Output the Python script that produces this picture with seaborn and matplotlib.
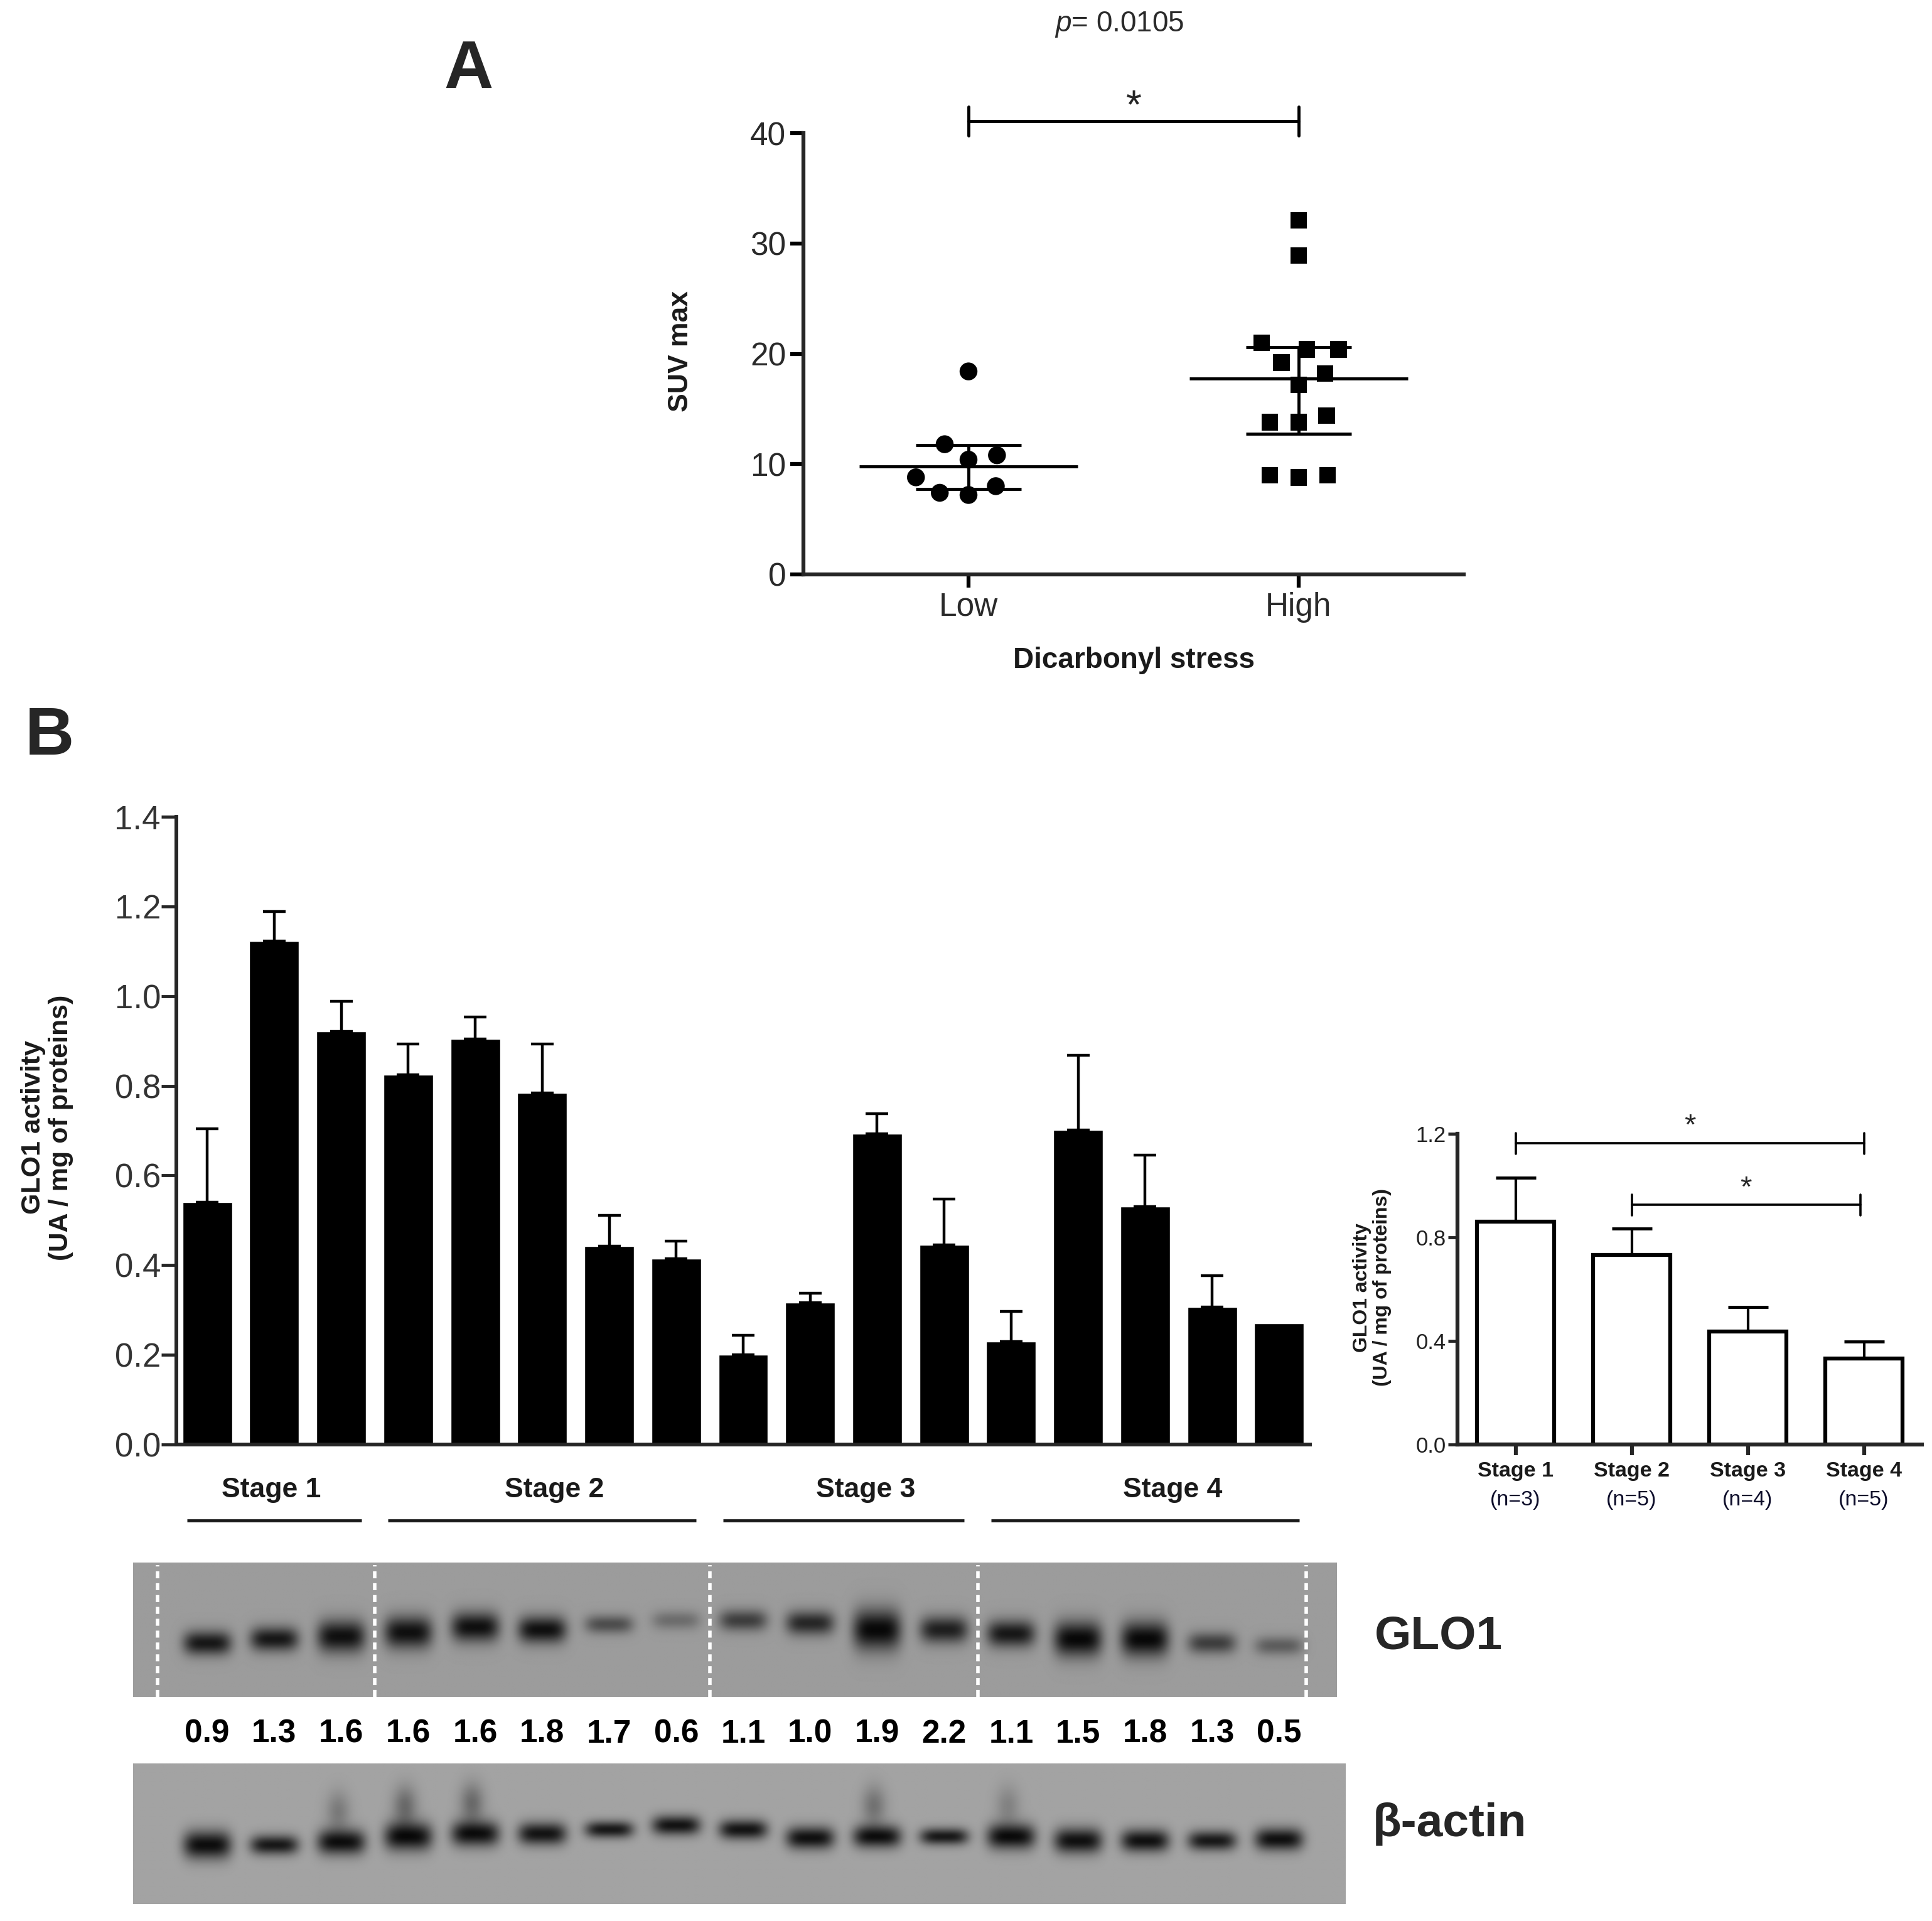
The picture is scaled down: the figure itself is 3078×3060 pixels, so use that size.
import numpy as np
import pandas as pd
import matplotlib
matplotlib.use("Agg")
import matplotlib.pyplot as plt
import seaborn as sns
from matplotlib.transforms import blended_transform_factory as blend

# ---------------- data ----------------
# Panel A: SUV max by dicarbonyl stress
groups_a = ["Low", "High"]
suv_low = [18.4, 11.8, 10.8, 10.4, 8.8, 8.0, 7.2, 7.4]
suv_high = [32.1, 28.9, 20.4, 20.4, 21.0, 19.2, 18.2, 17.2, 13.8, 13.8, 14.4, 9.0, 8.8, 9.0]
center_a = [9.8, 17.75]
lower_a = [7.75, 12.75]
upper_a = [11.7, 20.6]
p_text = "0.0105"

# Panel B: GLO1 activity per sample
glo1_activity = [0.540, 1.123, 0.921, 0.825, 0.905, 0.784, 0.442, 0.415,
                 0.200, 0.316, 0.693, 0.445, 0.230, 0.702, 0.530, 0.307, 0.270]
glo1_err = [0.164, 0.066, 0.067, 0.068, 0.049, 0.109, 0.069, 0.039,
            0.043, 0.021, 0.045, 0.103, 0.067, 0.166, 0.115, 0.070, 0.0]
stage_names = ["Stage 1", "Stage 2", "Stage 3", "Stage 4"]
stage_sizes = [3, 5, 4, 5]
blot_ratios = [0.9, 1.3, 1.6, 1.6, 1.6, 1.8, 1.7, 0.6, 1.1, 1.0, 1.9, 2.2, 1.1, 1.5, 1.8, 1.3, 0.5]

# Inset: mean GLO1 activity by stage
stage_mean = [0.860, 0.732, 0.436, 0.331]
stage_err = [0.170, 0.102, 0.096, 0.067]
stage_n = ["(n=3)", "(n=5)", "(n=4)", "(n=5)"]

# Blot band appearance (darkness 0..1, vertical centre, half height)
glo_band_dark = [0.85, 0.85, 0.9, 0.9, 0.9, 0.9, 0.5, 0.3, 0.6, 0.75, 0.95, 0.8, 0.85, 0.95, 0.95, 0.6, 0.4]
glo_band_y = [0.60, 0.57, 0.55, 0.52, 0.48, 0.50, 0.46, 0.43, 0.43, 0.45, 0.50, 0.50, 0.53, 0.57, 0.57, 0.60, 0.62]
glo_band_h = [0.09, 0.09, 0.12, 0.12, 0.11, 0.10, 0.07, 0.07, 0.08, 0.09, 0.15, 0.10, 0.10, 0.13, 0.13, 0.08, 0.07]
act_band_dark = [0.92, 0.85, 0.9, 0.92, 0.9, 0.88, 0.85, 0.88, 0.88, 0.9, 0.9, 0.85, 0.92, 0.9, 0.9, 0.85, 0.9]
act_band_y = [0.58, 0.58, 0.56, 0.52, 0.50, 0.50, 0.47, 0.44, 0.47, 0.53, 0.52, 0.52, 0.52, 0.55, 0.55, 0.55, 0.54]
act_band_h = [0.10, 0.07, 0.09, 0.10, 0.09, 0.08, 0.06, 0.07, 0.07, 0.08, 0.08, 0.06, 0.09, 0.09, 0.08, 0.07, 0.08]
act_smear = [0, 0, 0.25, 0.35, 0.35, 0, 0, 0, 0, 0, 0.3, 0, 0.2, 0, 0, 0, 0]

# ---------------- style ----------------
sns.set_theme(style="ticks")
plt.rcParams["font.family"] = ["Liberation Sans", "DejaVu Sans"]
plt.rcParams["mathtext.fontset"] = "custom"
plt.rcParams["mathtext.rm"] = "Liberation Sans"
plt.rcParams["mathtext.it"] = "Liberation Sans:italic"
plt.rcParams["axes.linewidth"] = 4.5
NARROW = ["Liberation Sans Narrow", "Liberation Sans", "DejaVu Sans"]

W, H = 3078, 3060
fig = plt.figure(figsize=(W / 100, H / 100), dpi=100)
fig.patch.set_facecolor("white")


def fx(px):
    return px / W


def fy(py):
    return 1 - py / H


def rect(l, t, r, b):
    return [fx(l), fy(b), fx(r) - fx(l), (b - t) / H]


# ---------------- Panel A ----------------
axA = fig.add_axes(rect(1280, 212, 2332, 915))
df_a = pd.DataFrame({"group": ["Low"] * len(suv_low) + ["High"] * len(suv_high),
                     "suv": suv_low + suv_high})
sns.swarmplot(data=df_a[df_a.group == "Low"], x="group", y="suv", order=groups_a,
              marker="o", color="black", size=20.5, linewidth=11, edgecolor="none", ax=axA)
sns.swarmplot(data=df_a[df_a.group == "High"], x="group", y="suv", order=groups_a,
              marker="s", color="black", size=19, linewidth=12.5, edgecolor="none", ax=axA)
xa = np.arange(len(groups_a))
axA.hlines(center_a, xa - 0.33, xa + 0.33, color="black", lw=3.5, zorder=5)
axA.hlines(lower_a, xa - 0.16, xa + 0.16, color="black", lw=3.5, zorder=5)
axA.hlines(upper_a, xa - 0.16, xa + 0.16, color="black", lw=3.5, zorder=5)
axA.vlines(xa, lower_a, upper_a, color="black", lw=3.5, zorder=5)
axA.set_xlim(-0.5, 1.5)
axA.set_ylim(0, 40)
axA.set_yticks([0, 10, 20, 30, 40])
sns.despine(ax=axA)
axA.tick_params(axis="both", length=15, width=4.5, color="black", labelsize=37,
                labelcolor="#2a2a2a", pad=5)
axA.set_xlabel("")
axA.set_ylabel("")
# significance bracket
axA.plot([0, 1], [41.1, 41.1], color="black", lw=3.5, clip_on=False)
axA.plot([0, 0], [39.8, 42.4], color="black", lw=3.5, clip_on=False)
axA.plot([1, 1], [39.8, 42.4], color="black", lw=3.5, clip_on=False)
axA.text(0.5, 40.6, "*", ha="center", va="bottom", fontsize=46, clip_on=False)
fig.text(fx(1783), fy(39), r"$p$= " + p_text, ha="center", va="center", fontsize=33, color="#2a2a2a")
fig.text(fx(1084), fy(559), "SUV max", rotation=90, ha="center", va="center",
         fontsize=32, fontweight="bold", color="#1a1a1a")
fig.text(fx(1806), fy(1052), "Dicarbonyl stress", ha="center", va="center",
         fontsize=33, fontweight="bold", color="#1a1a1a")
fig.text(fx(746), fy(112), "A", ha="center", va="center", fontsize=78, fontweight="bold")
fig.text(fx(79), fy(1174), "B", ha="center", va="center", fontsize=78, fontweight="bold")

# ---------------- Panel B main bars ----------------
axB = fig.add_axes(rect(281, 1301, 2087, 2301))
n_lanes = len(glo1_activity)
lanes = np.arange(n_lanes)
sns.barplot(x=lanes, y=glo1_activity, color="black", saturation=1, width=0.74, ax=axB)
mask = np.array(glo1_err) > 0
axB.errorbar(lanes[mask], np.array(glo1_activity)[mask],
             yerr=[np.zeros(mask.sum()), np.array(glo1_err)[mask]],
             fmt="none", ecolor="black", elinewidth=3.2, capsize=13, capthick=3.2, zorder=4)
axB.set_xlim(-0.46, n_lanes - 0.54)
axB.set_ylim(0, 1.4)
axB.set_yticks(np.arange(0, 1.41, 0.2))
axB.set_yticklabels([f"{v:.1f}" for v in np.arange(0, 1.41, 0.2)])
axB.set_xticks([])
sns.despine(ax=axB)
for s in ["left", "bottom"]:
    axB.spines[s].set_linewidth(4.3)
axB.tick_params(axis="y", length=17, width=3.5, labelsize=38, labelcolor="#333333", pad=1)
axB.set_xlabel("")
axB.set_ylabel("")
fig.text(fx(75), fy(1796), "GLO1 activity\n(UA / mg of proteins)", rotation=90,
         ha="center", va="center", fontsize=31, fontweight="bold", color="#1a1a1a",
         linespacing=1.1, multialignment="center")
trB = blend(axB.transData, axB.transAxes)
label_shift = [-0.04, 0.18, 0.33, 0.41]   # stage captions sit a little right of centre
start = 0
for name, size, sh in zip(stage_names, stage_sizes, label_shift):
    end = start + size - 1
    axB.text((start + end) / 2 + sh, -0.072, name, transform=trB, ha="center", va="center",
             fontsize=32, fontweight="bold", color="#1a1a1a")
    axB.plot([start - 0.3, end + 0.3], [-0.121, -0.121], transform=trB, color="#1a1a1a",
             lw=3.5, clip_on=False, solid_capstyle="butt")
    start += size

# ---------------- Inset bars ----------------
axI = fig.add_axes(rect(2322, 1806, 3062, 2301))
sns.barplot(x=stage_names, y=stage_mean, color="white", edgecolor="black", linewidth=4.5,
            saturation=1, width=0.67, ax=axI)
xi = np.arange(len(stage_names))
axI.errorbar(xi, stage_mean, yerr=[np.zeros(len(xi)), stage_err], fmt="none", ecolor="black",
             elinewidth=3, capsize=23, capthick=3.5, zorder=4)
axI.set_xlim(-0.5, 3.5)
axI.set_ylim(0, 1.2)
axI.set_yticks([0, 0.4, 0.8, 1.2])
axI.set_yticklabels(["0.0", "0.4", "0.8", "1.2"])
axI.set_xticks(xi)
axI.set_xticklabels([""] * len(xi))
sns.despine(ax=axI)
for s in ["left", "bottom"]:
    axI.spines[s].set_linewidth(4.5)
axI.tick_params(axis="y", length=11, width=3.5, labelsize=25, labelcolor="#222222", pad=2)
axI.tick_params(axis="x", length=12, width=4.5)
axI.set_xlabel("")
axI.set_ylabel("")
trI = blend(axI.transData, axI.transAxes)
for i, (name, n) in enumerate(zip(stage_names, stage_n)):
    axI.text(i, -0.085, name, transform=trI, ha="center", va="center", fontsize=24.5,
             fontweight="bold", color="#1a1a1a")
    axI.text(i, -0.178, n, transform=trI, ha="center", va="center", fontsize=24.5,
             color="#0d0d2a")
for x0, x1, yb, ys in [(0, 3, 1.163, 1.175), (1, 2.97, 0.926, 0.935)]:
    axI.plot([x0, x1], [yb, yb], color="black", lw=2.6, clip_on=False)
    axI.plot([x0, x0], [yb - 0.04, yb + 0.04], color="black", lw=2.6, clip_on=False)
    axI.plot([x1, x1], [yb - 0.04, yb + 0.04], color="black", lw=2.6, clip_on=False)
    axI.text((x0 + x1) / 2, ys, "*", ha="center", va="bottom", fontsize=34, clip_on=False)
fig.text(fx(2186), fy(2051), "GLO1 activity\n(UA / mg of proteins)", rotation=90,
         ha="center", va="center", fontsize=23, fontweight="bold", color="#1a1a1a",
         linespacing=1.1, multialignment="center")


# ---------------- Western blots ----------------
def draw_blot(ax, xlim, bg, dark, yc, hh, width=0.36, smear=None):
    nx, ny = 1900, 240
    xs = np.linspace(xlim[0], xlim[1], nx)
    ys = np.linspace(0, 1, ny)
    X, Y = np.meshgrid(xs, ys)
    img = np.full(X.shape, bg)
    for i in range(len(dark)):
        prof = np.exp(-np.abs((X - i) / width) ** 4 - ((Y - yc[i]) / hh[i]) ** 2)
        img = img - dark[i] * bg * prof
        if smear is not None and smear[i] > 0:
            sm = np.exp(-np.abs((X - i + 0.05) / 0.18) ** 2 - ((Y - (yc[i] - 0.22)) / 0.14) ** 2)
            img = img - smear[i] * bg * sm
    img = np.clip(img, 0.02, 1)
    ax.imshow(img, cmap="gray", vmin=0, vmax=1, extent=(xlim[0], xlim[1], 1, 0),
              aspect="auto", interpolation="bilinear")
    ax.set_xlim(*xlim)
    ax.set_ylim(1, 0)
    ax.set_xticks([])
    ax.set_yticks([])
    for s in ax.spines.values():
        s.set_visible(False)


axG = fig.add_axes(rect(212, 2489, 2130, 2703))
draw_blot(axG, (-1.106, 16.862), 0.61, glo_band_dark, glo_band_y, glo_band_h)
bounds = [-0.74]
acc = 0
for size in stage_sizes:
    acc += size
    bounds.append(acc - 0.5)
bounds[-1] = n_lanes - 0.6
for b in bounds:
    axG.axvline(b, color="white", lw=4, ls=(0, (2, 1.4)), ymin=0.0, ymax=0.98)

axA2 = fig.add_axes(rect(212, 2809, 2144, 3033))
draw_blot(axA2, (-1.106, 16.99), 0.64, act_band_dark, act_band_y, act_band_h, smear=act_smear)

trN = blend(axG.transData, fig.transFigure)
for i, r in enumerate(blot_ratios):
    axG.text(i, fy(2762), f"{r:.1f}", transform=trN, ha="center", va="center",
             fontsize=37, fontweight="bold", family=NARROW, color="black", clip_on=False)

fig.text(fx(2190), fy(2607), "GLO1", ha="left", va="center", fontsize=54,
         fontweight="bold", family=NARROW)
fig.text(fx(2187), fy(2905), "β-actin", ha="left", va="center", fontsize=54,
         fontweight="bold", family=NARROW)

fig.savefig("out.png", dpi=100, facecolor="white")
